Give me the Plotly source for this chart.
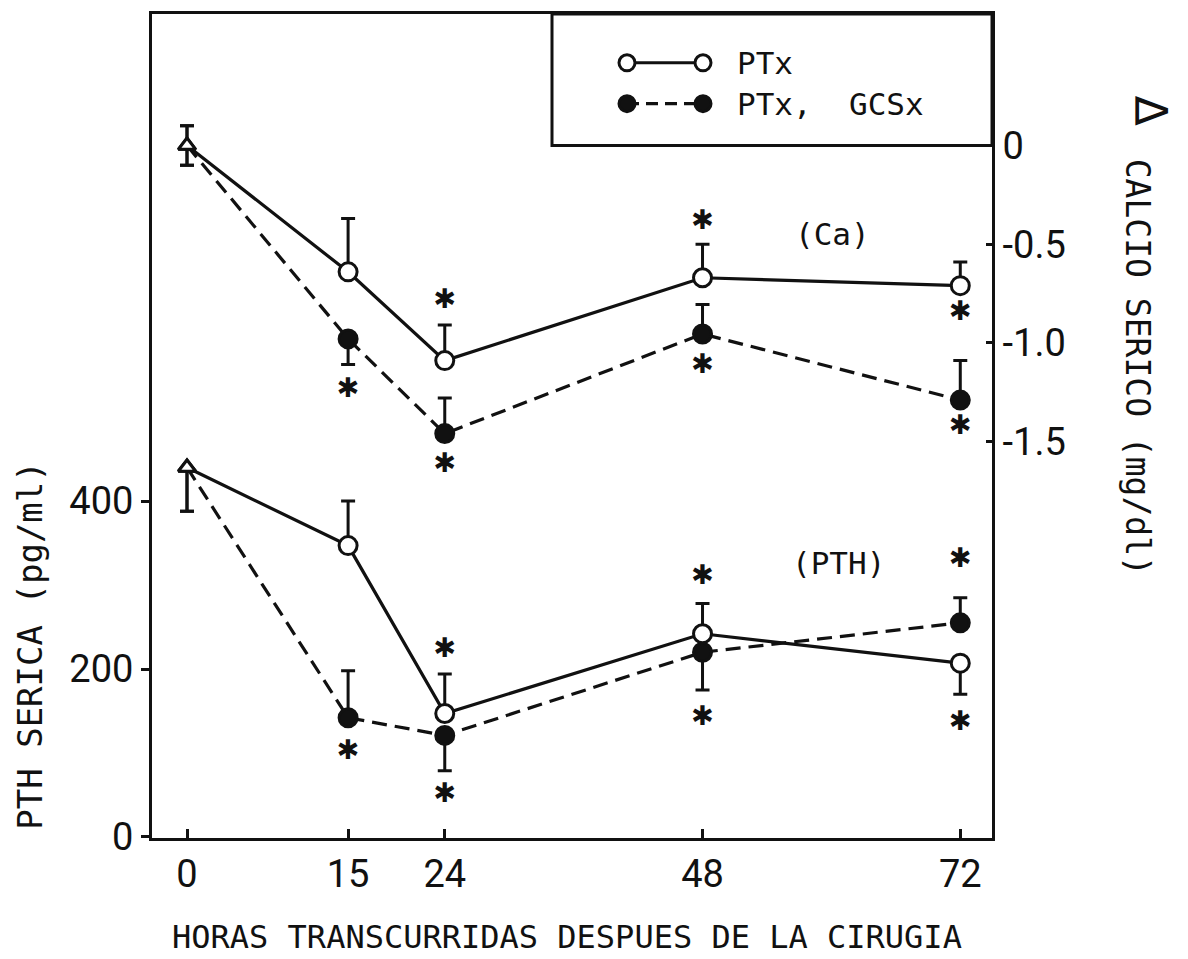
import plotly.graph_objects as go

# --- data -------------------------------------------------------------
hours = [0, 15, 24, 48, 72]
hour_labels = ["0", "15", "24", "48", "72"]

# change in serum calcium (mg/dl), right axis
ca_ptx = [0.0, -0.64, -1.09, -0.67, -0.71]
ca_ptx_up = [0.10, 0.27, 0.18, 0.17, 0.12]
ca_ptx_down = [0.10, 0.0, 0.0, 0.0, 0.0]

ca_gcs = [0.0, -0.98, -1.46, -0.955, -1.29]
ca_gcs_up = [0.10, 0.0, 0.18, 0.15, 0.20]
ca_gcs_down = [0.10, 0.13, 0.0, 0.0, 0.0]

# serum PTH (pg/ml), left axis
pth_ptx = [440, 347, 147, 242, 207]
pth_ptx_up = [0, 53, 47, 36, 0]
pth_ptx_down = [52, 0, 0, 0, 37]

pth_gcs = [440, 142, 121, 220, 255]
pth_gcs_up = [0, 56, 0, 0, 30]
pth_gcs_down = [52, 0, 42, 45, 0]

# significance marks (*)
ca_star_x = [15, 24, 24, 48, 48, 72, 72]
ca_star_y = [-1.24, -0.79, -1.62, -0.39, -1.12, -0.85, -1.43]
pth_star_x = [15, 24, 24, 48, 48, 72, 72]
pth_star_y = [101, 222, 50, 309, 141, 329, 136]

pth_ticks = [0, 200, 400]
ca_ticks = [0, -0.5, -1.0, -1.5]
ca_tick_text = ["0", "-0.5", "-1.0", "-1.5"]

# --- layout geometry (pixels) -----------------------------------------
W, H = 1188, 959
L, R, T, B = 152, 992, 11, 838

def px(x):
    return (x - L) / (R - L)

def py(y):
    return (B - y) / (B - T)

MONO = "DejaVu Sans Mono, monospace"
NUM = "Roboto, sans-serif"
INK = "#111111"

fig = go.Figure()

def series(x, y, up, down, dashed, axis):
    sym = ["triangle-up"] + ["circle"] * (len(x) - 1)
    fill = ["white"] + ([INK] if dashed else ["white"]) * (len(x) - 1)
    size = [15] + [18] * (len(x) - 1)
    return go.Scatter(
        x=x, y=y, yaxis=axis, mode="lines+markers", showlegend=False,
        line=dict(color=INK, width=3.2, dash="15px,8px" if dashed else "solid"),
        marker=dict(symbol=sym, size=size, color=fill, opacity=1,
                    line=dict(color=INK, width=3)),
        error_y=dict(type="data", symmetric=False, array=up, arrayminus=down,
                     color=INK, thickness=3, width=7),
        cliponaxis=False,
    )

fig.add_trace(series(hours, pth_gcs, pth_gcs_up, pth_gcs_down, True, "y"))
fig.add_trace(series(hours, pth_ptx, pth_ptx_up, pth_ptx_down, False, "y"))
fig.add_trace(series(hours, ca_gcs, ca_gcs_up, ca_gcs_down, True, "y2"))
fig.add_trace(series(hours, ca_ptx, ca_ptx_up, ca_ptx_down, False, "y2"))

star_font = dict(family="DejaVu Sans, sans-serif", size=27, color=INK)
fig.add_trace(go.Scatter(x=ca_star_x, y=ca_star_y, yaxis="y2", mode="text",
                         text=["✱"] * len(ca_star_x), textfont=star_font,
                         showlegend=False))
fig.add_trace(go.Scatter(x=pth_star_x, y=pth_star_y, yaxis="y", mode="text",
                         text=["✱"] * len(pth_star_x), textfont=star_font,
                         showlegend=False))

# --- legend box drawn inside the top-right corner ---------------------
shapes = [
    dict(type="rect", xref="paper", yref="paper", x0=px(552), x1=px(R),
         y0=py(143), y1=py(T), line=dict(color=INK, width=3), fillcolor="white",
         layer="below"),
    dict(type="line", xref="paper", yref="paper", x0=px(627), x1=px(703),
         y0=py(60), y1=py(60), line=dict(color=INK, width=3)),
    dict(type="line", xref="paper", yref="paper", x0=px(627), x1=px(703),
         y0=py(101), y1=py(101), line=dict(color=INK, width=3.2, dash="12px,7px")),
]
for cx, cy, fill in [(627, 60, "white"), (703, 60, "white"),
                     (627, 101, INK), (703, 101, INK)]:
    r = 8
    shapes.append(dict(type="circle", xref="paper", yref="paper",
                       x0=px(cx - r), x1=px(cx + r), y0=py(cy + r), y1=py(cy - r),
                       line=dict(color=INK, width=3), fillcolor=fill))

annotations = [
    dict(text="PTx", x=px(735), y=py(60), xanchor="left", yanchor="middle"),
    dict(text="PTx,  GCSx", x=px(735), y=py(101), xanchor="left", yanchor="middle"),
    dict(text="(Ca)", x=px(832), y=py(232), xanchor="center", yanchor="middle"),
    dict(text="(PTH)", x=px(838), y=py(562), xanchor="center", yanchor="middle"),
    dict(text="HORAS TRANSCURRIDAS DESPUES DE LA CIRUGIA", x=px(567), y=py(937),
         xanchor="center", yanchor="middle", font=dict(family=MONO, size=32, color=INK)),
    dict(text="PTH SERICA (pg/ml)", x=px(30), y=py(645), textangle=-90,
         xanchor="center", yanchor="middle", font=dict(family=MONO, size=34, color=INK)),
    dict(text="CALCIO SERICO (mg/dl)", x=px(1137), y=py(365), textangle=90,
         xanchor="center", yanchor="middle", font=dict(family=MONO, size=33, color=INK)),
    dict(text="Δ", x=px(1150), y=py(108), textangle=90,
         xanchor="center", yanchor="middle",
         font=dict(family="DejaVu Sans, sans-serif", size=44, color=INK)),
]
for a in annotations:
    a.setdefault("font", dict(family=MONO, size=31, color=INK))
    a.update(xref="paper", yref="paper", showarrow=False)

fig.update_layout(
    width=W, height=H,
    margin=dict(l=L, r=W - R, t=T, b=H - B, pad=0),
    paper_bgcolor="white", plot_bgcolor="white",
    showlegend=False,
    shapes=shapes, annotations=annotations,
    xaxis=dict(range=[(L - 187) / 10.74, (R - 187) / 10.74],
               tickvals=hours, ticktext=hour_labels,
               ticks="inside", ticklen=9, tickwidth=2.5, tickcolor=INK,
               showline=True, linecolor=INK, linewidth=3, mirror=True,
               showgrid=False, zeroline=False,
               tickfont=dict(family=NUM, size=38, color=INK)),
    yaxis=dict(range=[-1.2, 980], tickvals=pth_ticks,
               ticks="outside", ticklen=8, tickwidth=2.5, tickcolor=INK,
               showline=True, linecolor=INK, linewidth=3, mirror=False,
               showgrid=False, zeroline=False,
               tickfont=dict(family=NUM, size=38, color=INK)),
    yaxis2=dict(range=[-3.51, 0.667], overlaying="y", side="right",
                tickvals=ca_ticks, ticktext=ca_tick_text,
                ticks="inside", ticklen=6, tickwidth=2.5, tickcolor=INK,
                showline=True, linecolor=INK, linewidth=3,
                showgrid=False, zeroline=False,
                tickfont=dict(family=NUM, size=38, color=INK)),
)

fig.write_html("out.html")
